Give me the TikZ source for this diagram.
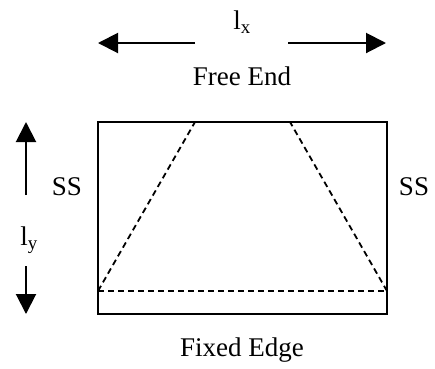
\documentclass[tikz,border=0pt]{standalone}
\usepackage{fontspec}
\setmainfont{Liberation Serif}
\usetikzlibrary{arrows.meta}
\tikzset{
  lbl/.style={font=\fontsize{27}{30}\selectfont, inner sep=0pt},
  dimarrow/.style={line width=2pt, -{Triangle[length=20pt,width=20pt]}},
  plate/.style={line width=2pt},
  dline/.style={line width=1.8pt, dash pattern=on 6pt off 4pt}
}
\begin{document}
\begin{tikzpicture}[x=1pt,y=-1pt]
\useasboundingbox (0,0) rectangle (435,368);
% plate
\coordinate (tl) at (98,122);
\coordinate (br) at (387,314);
\draw[plate] (tl) rectangle (br);
\coordinate (dl) at (98,291);
\coordinate (dr) at (387,291);
\coordinate (tlt) at (195,122);
\coordinate (trt) at (290,122);
\draw[dline] (dl) -- (dr);
\draw[dline] (dl) -- (tlt);
\draw[dline] (dr) -- (trt);
% horizontal arrows
\node[lbl] (lx) at (242,22) {l\textsubscript{x}};
\node[lbl] (free) at (242,76) {Free End};
\coordinate (hl0) at (195,43);
\coordinate (hl1) at (98,43);
\coordinate (hr0) at (288,43);
\coordinate (hr1) at (386,43);
\draw[dimarrow] (hl0) -- (hl1);
\draw[dimarrow] (hr0) -- (hr1);
% vertical arrows
\coordinate (vu0) at (26,195);
\coordinate (vu1) at (26,122);
\coordinate (vd0) at (26,266);
\coordinate (vd1) at (26,314);
\draw[dimarrow] (vu0) -- (vu1);
\draw[dimarrow] (vd0) -- (vd1);
\node[lbl] (ly) at (29,240) {l\textsubscript{y}};
\node[lbl] (ssl) at (67,187) {SS};
\node[lbl] (ssr) at (414,187) {SS};
\node[lbl] (fixed) at (242,350) {Fixed Edge};
\end{tikzpicture}
\end{document}
